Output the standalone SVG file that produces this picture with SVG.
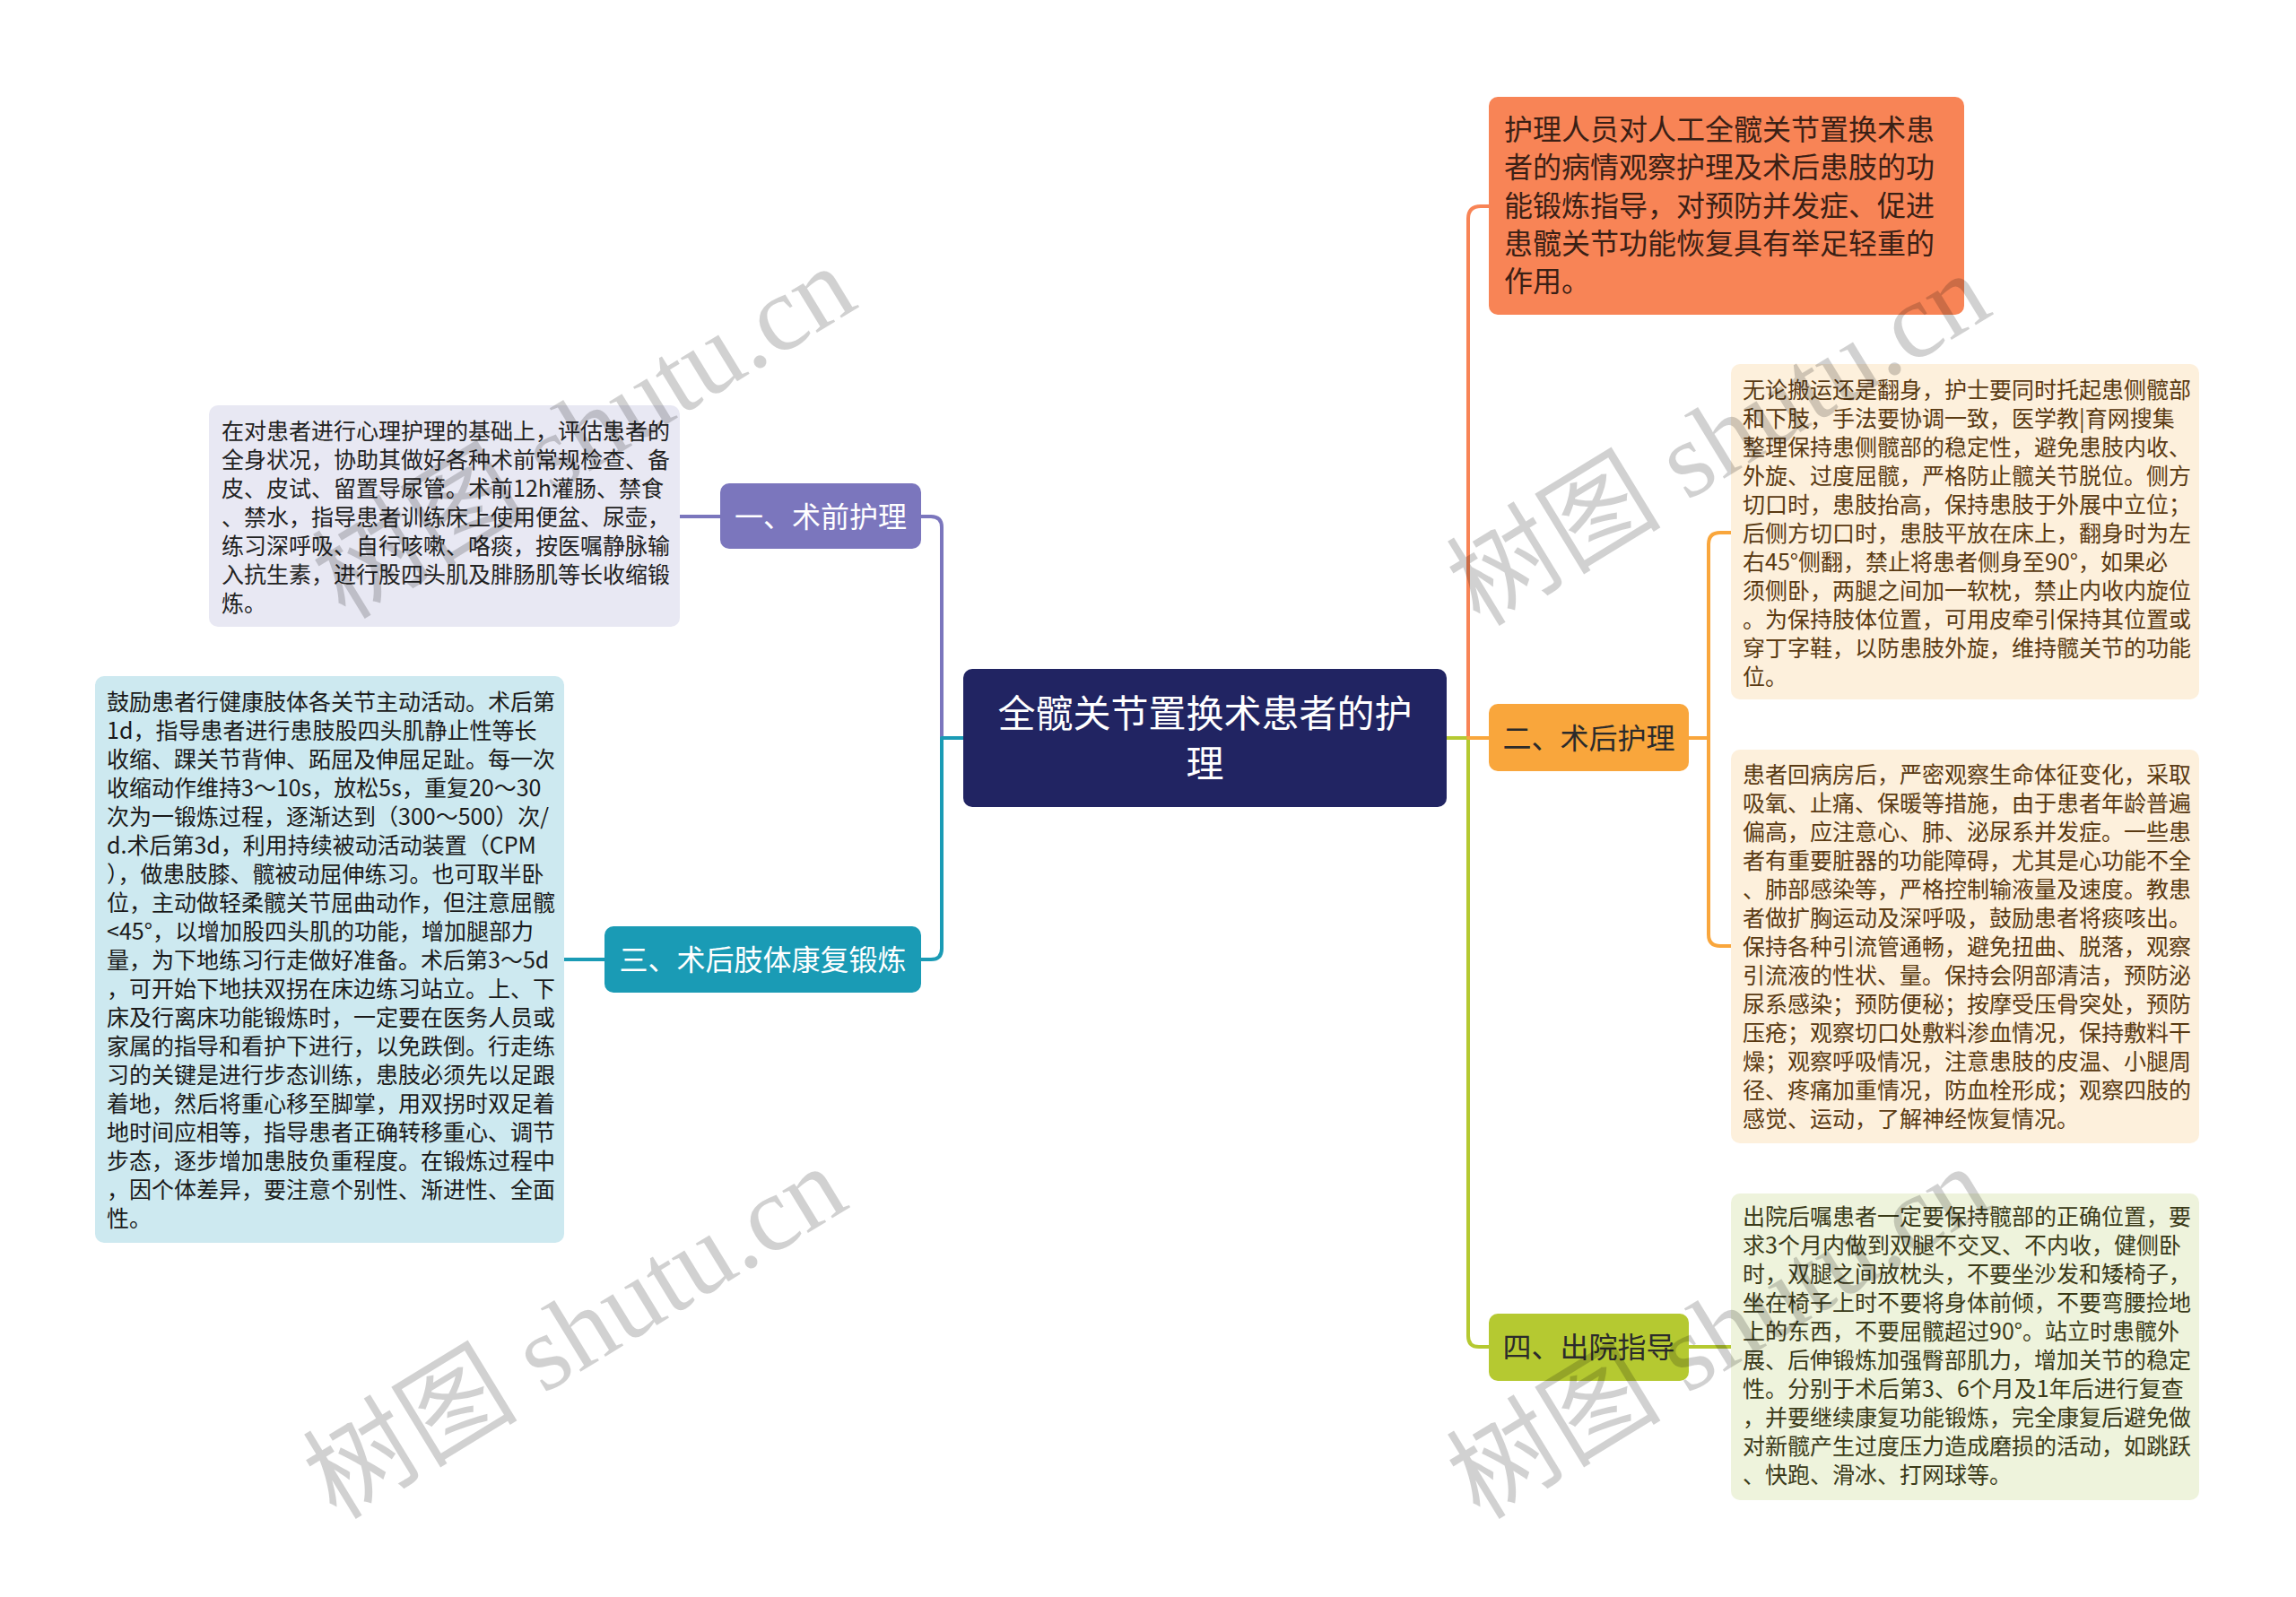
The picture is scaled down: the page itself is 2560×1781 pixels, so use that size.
<svg xmlns="http://www.w3.org/2000/svg" width="2560" height="1781" viewBox="0 0 2560 1781">
<style>
text{font-family:"Noto Sans CJK SC","Noto Sans",sans-serif}
.conn{fill:none;stroke-width:4;stroke-linecap:round;stroke-linejoin:round}
.d{font-size:25px}
.b{font-size:32px}
.w{fill:#ffffff}
.k{fill:#2b2b2b}
.wm{font-family:"Liberation Serif","Noto Sans CJK SC",serif;font-size:120px;fill:#000;fill-opacity:0.18}
</style>
<rect width="2560" height="1781" fill="#ffffff"/>
<g id="connectors">
<path class="conn" stroke="#7b76bd" d="M1027 576 H1038 Q1050 576 1050 588 V823"/>
<path class="conn" stroke="#1a9bb5" d="M1074 823 H1050 V1058 Q1050 1070 1038 1070 H1027"/>
<path class="conn" stroke="#7b76bd" d="M803 576 H758"/>
<path class="conn" stroke="#1a9bb5" d="M674 1070 H629"/>
<path class="conn" stroke="#f88456" d="M1637 823 V244 Q1637 230 1651 230 H1660"/>
<path class="conn" stroke="#b5c931" d="M1637 823 V1490 Q1637 1502 1649 1502 H1660"/>
<path class="conn" stroke="#b5c931" d="M1613 823 H1637"/>
<path class="conn" stroke="#f9a63c" d="M1637 823 H1660"/>
<path class="conn" stroke="#f9a63c" d="M1883 823 H1905 M1905 823 V607 Q1905 594 1918 594 H1930 M1905 823 V1042 Q1905 1055 1918 1055 H1930"/>
<path class="conn" stroke="#b5c931" d="M1883 1502 H1930"/>
</g>
<g id="center">
<rect x="1074" y="746" width="539" height="154" rx="10" fill="#212462"/>
<text class="w" font-size="42" text-anchor="middle"><tspan x="1343.5" y="811">全髋关节置换术患者的护</tspan><tspan x="1343.5" y="867">理</tspan></text>
</g>
<g id="n-intro">
<rect x="1660" y="108" width="530" height="243" rx="10" fill="#f88456"/>
<text class="b" fill="#3a2015"><tspan x="1677" y="156">护理人员对人工全髋关节置换术患</tspan><tspan x="1677" y="198">者的病情观察护理及术后患肢的功</tspan><tspan x="1677" y="241">能锻炼指导，对预防并发症、促进</tspan><tspan x="1677" y="283">患髋关节功能恢复具有举足轻重的</tspan><tspan x="1677" y="325">作用。</tspan></text>
</g>
<g id="n1">
<rect x="803" y="539" width="224" height="73" rx="10" fill="#7b76bd"/>
<text class="b w" text-anchor="middle" x="915" y="588">一、术前护理</text>
</g>
<g id="n1-detail">
<rect x="233" y="452" width="525" height="247" rx="10" fill="#e8e8f3"/>
<text class="d" fill="#222"><tspan x="247" y="490">在对患者进行心理护理的基础上，评估患者的</tspan><tspan x="247" y="522">全身状况，协助其做好各种术前常规检查、备</tspan><tspan x="247" y="554">皮、皮试、留置导尿管。术前12h灌肠、禁食</tspan><tspan x="247" y="586">、禁水，指导患者训练床上使用便盆、尿壶，</tspan><tspan x="247" y="618">练习深呼吸、自行咳嗽、咯痰，按医嘱静脉输</tspan><tspan x="247" y="650">入抗生素，进行股四头肌及腓肠肌等长收缩锻</tspan><tspan x="247" y="682">炼。</tspan></text>
</g>
<g id="n3">
<rect x="674" y="1033" width="353" height="74" rx="10" fill="#1a9bb5"/>
<text class="b w" text-anchor="middle" x="850.5" y="1082">三、术后肢体康复锻炼</text>
</g>
<g id="n3-detail">
<rect x="106" y="754" width="523" height="632" rx="10" fill="#cde9f0"/>
<text class="d" fill="#1a1a1a"><tspan x="119" y="792">鼓励患者行健康肢体各关节主动活动。术后第</tspan><tspan x="119" y="824">1d，指导患者进行患肢股四头肌静止性等长</tspan><tspan x="119" y="856">收缩、踝关节背伸、跖屈及伸屈足趾。每一次</tspan><tspan x="119" y="888">收缩动作维持3～10s，放松5s，重复20～30</tspan><tspan x="119" y="920">次为一锻炼过程，逐渐达到（300～500）次/</tspan><tspan x="119" y="952">d.术后第3d，利用持续被动活动装置（CPM</tspan><tspan x="119" y="984">），做患肢膝、髋被动屈伸练习。也可取半卧</tspan><tspan x="119" y="1016">位，主动做轻柔髋关节屈曲动作，但注意屈髋</tspan><tspan x="119" y="1048">&lt;45°，以增加股四头肌的功能，增加腿部力</tspan><tspan x="119" y="1080">量，为下地练习行走做好准备。术后第3～5d</tspan><tspan x="119" y="1112">，可开始下地扶双拐在床边练习站立。上、下</tspan><tspan x="119" y="1144">床及行离床功能锻炼时，一定要在医务人员或</tspan><tspan x="119" y="1176">家属的指导和看护下进行，以免跌倒。行走练</tspan><tspan x="119" y="1208">习的关键是进行步态训练，患肢必须先以足跟</tspan><tspan x="119" y="1240">着地，然后将重心移至脚掌，用双拐时双足着</tspan><tspan x="119" y="1272">地时间应相等，指导患者正确转移重心、调节</tspan><tspan x="119" y="1304">步态，逐步增加患肢负重程度。在锻炼过程中</tspan><tspan x="119" y="1336">，因个体差异，要注意个别性、渐进性、全面</tspan><tspan x="119" y="1368">性。</tspan></text>
</g>
<g id="n2">
<rect x="1660" y="785" width="223" height="75" rx="10" fill="#f9a63c"/>
<text class="b k" text-anchor="middle" x="1771.5" y="835">二、术后护理</text>
</g>
<g id="n2-detail-a">
<rect x="1930" y="406" width="522" height="374" rx="10" fill="#fdf0dc"/>
<text class="d" fill="#5a3a12"><tspan x="1943" y="444">无论搬运还是翻身，护士要同时托起患侧髋部</tspan><tspan x="1943" y="476">和下肢，手法要协调一致，医学教|育网搜集</tspan><tspan x="1943" y="508">整理保持患侧髋部的稳定性，避免患肢内收、</tspan><tspan x="1943" y="540">外旋、过度屈髋，严格防止髋关节脱位。侧方</tspan><tspan x="1943" y="572">切口时，患肢抬高，保持患肢于外展中立位；</tspan><tspan x="1943" y="604">后侧方切口时，患肢平放在床上，翻身时为左</tspan><tspan x="1943" y="636">右45°侧翻，禁止将患者侧身至90°，如果必</tspan><tspan x="1943" y="668">须侧卧，两腿之间加一软枕，禁止内收内旋位</tspan><tspan x="1943" y="700">。为保持肢体位置，可用皮牵引保持其位置或</tspan><tspan x="1943" y="732">穿丁字鞋，以防患肢外旋，维持髋关节的功能</tspan><tspan x="1943" y="764">位。</tspan></text>
</g>
<g id="n2-detail-b">
<rect x="1930" y="836" width="522" height="439" rx="10" fill="#fdf0dc"/>
<text class="d" fill="#5a3a12"><tspan x="1943" y="873">患者回病房后，严密观察生命体征变化，采取</tspan><tspan x="1943" y="905">吸氧、止痛、保暖等措施，由于患者年龄普遍</tspan><tspan x="1943" y="937">偏高，应注意心、肺、泌尿系并发症。一些患</tspan><tspan x="1943" y="969">者有重要脏器的功能障碍，尤其是心功能不全</tspan><tspan x="1943" y="1001">、肺部感染等，严格控制输液量及速度。教患</tspan><tspan x="1943" y="1033">者做扩胸运动及深呼吸，鼓励患者将痰咳出。</tspan><tspan x="1943" y="1065">保持各种引流管通畅，避免扭曲、脱落，观察</tspan><tspan x="1943" y="1097">引流液的性状、量。保持会阴部清洁，预防泌</tspan><tspan x="1943" y="1129">尿系感染；预防便秘；按摩受压骨突处，预防</tspan><tspan x="1943" y="1161">压疮；观察切口处敷料渗血情况，保持敷料干</tspan><tspan x="1943" y="1193">燥；观察呼吸情况，注意患肢的皮温、小腿周</tspan><tspan x="1943" y="1225">径、疼痛加重情况，防血栓形成；观察四肢的</tspan><tspan x="1943" y="1257">感觉、运动，了解神经恢复情况。</tspan></text>
</g>
<g id="n4">
<rect x="1660" y="1465" width="223" height="75" rx="10" fill="#b5c931"/>
<text class="b k" text-anchor="middle" x="1771.5" y="1514">四、出院指导</text>
</g>
<g id="n4-detail">
<rect x="1930" y="1331" width="522" height="342" rx="10" fill="#eef3dc"/>
<text class="d" fill="#3a3a18"><tspan x="1943" y="1366">出院后嘱患者一定要保持髋部的正确位置，要</tspan><tspan x="1943" y="1398">求3个月内做到双腿不交叉、不内收，健侧卧</tspan><tspan x="1943" y="1430">时，双腿之间放枕头，不要坐沙发和矮椅子，</tspan><tspan x="1943" y="1462">坐在椅子上时不要将身体前倾，不要弯腰捡地</tspan><tspan x="1943" y="1494">上的东西，不要屈髋超过90°。站立时患髋外</tspan><tspan x="1943" y="1526">展、后伸锻炼加强臀部肌力，增加关节的稳定</tspan><tspan x="1943" y="1558">性。分别于术后第3、6个月及1年后进行复查</tspan><tspan x="1943" y="1590">，并要继续康复功能锻炼，完全康复后避免做</tspan><tspan x="1943" y="1622">对新髋产生过度压力造成磨损的活动，如跳跃</tspan><tspan x="1943" y="1654">、快跑、滑冰、打网球等。</tspan></text>
</g>
<g id="watermarks">
<text class="wm" transform="translate(385 692) rotate(-31.4)">树图 shutu.cn</text>
<text class="wm" transform="translate(1650 700) rotate(-31.4)">树图 shutu.cn</text>
<text class="wm" transform="translate(375 1696) rotate(-31.4)">树图 shutu.cn</text>
<text class="wm" transform="translate(1650 1696) rotate(-31.4)">树图 shutu.cn</text>
</g>
</svg>
